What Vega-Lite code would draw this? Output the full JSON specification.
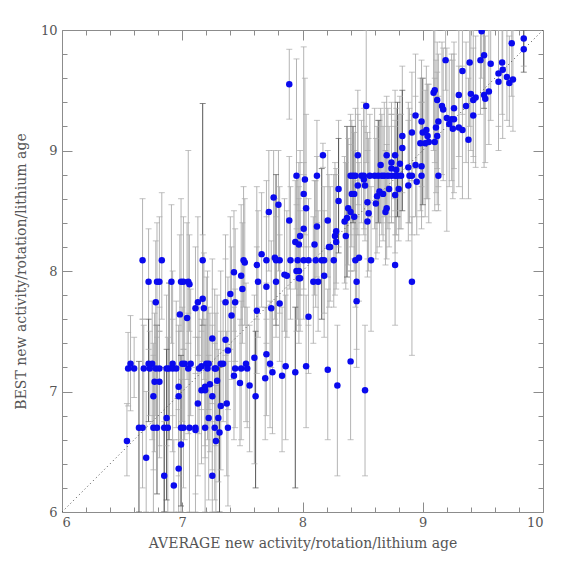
{
  "$schema": "https://vega.github.io/schema/vega-lite/v6.json",
  "width": 481,
  "height": 482,
  "autosize": {"type": "none"},
  "padding": {"left": 62, "top": 30, "right": 31, "bottom": 62},
  "background": "white",
  "datasets": {
    "stars": [
      {"x":6.54,"y":6.59,"lo":6.3,"hi":6.9,"d":0},
      {"x":6.55,"y":7.19,"lo":6.88,"hi":7.49,"d":0},
      {"x":6.57,"y":7.23,"lo":6.84,"hi":7.63,"d":0},
      {"x":6.60,"y":7.19,"lo":6.95,"hi":7.45,"d":0},
      {"x":6.64,"y":6.70,"lo":6.0,"hi":7.25,"d":1},
      {"x":6.67,"y":6.70,"lo":6.2,"hi":7.6,"d":0},
      {"x":6.67,"y":8.09,"lo":7.6,"hi":8.6,"d":0},
      {"x":6.68,"y":7.19,"lo":6.7,"hi":7.55,"d":0},
      {"x":6.70,"y":6.45,"lo":6.0,"hi":7.0,"d":0},
      {"x":6.72,"y":7.91,"lo":7.35,"hi":8.35,"d":0},
      {"x":6.72,"y":7.23,"lo":6.75,"hi":7.6,"d":1},
      {"x":6.75,"y":7.23,"lo":6.6,"hi":7.75,"d":0},
      {"x":6.73,"y":7.19,"lo":6.8,"hi":7.5,"d":0},
      {"x":6.76,"y":6.96,"lo":6.35,"hi":7.4,"d":0},
      {"x":6.76,"y":6.70,"lo":6.0,"hi":7.3,"d":0},
      {"x":6.79,"y":6.70,"lo":6.15,"hi":7.55,"d":1},
      {"x":6.77,"y":7.08,"lo":6.5,"hi":7.65,"d":0},
      {"x":6.78,"y":7.74,"lo":7.2,"hi":8.25,"d":0},
      {"x":6.78,"y":7.19,"lo":6.8,"hi":7.55,"d":0},
      {"x":6.81,"y":7.19,"lo":6.55,"hi":7.7,"d":0},
      {"x":6.79,"y":7.91,"lo":7.45,"hi":8.4,"d":0},
      {"x":6.81,"y":7.91,"lo":7.5,"hi":8.45,"d":0},
      {"x":6.81,"y":7.08,"lo":6.45,"hi":7.5,"d":0},
      {"x":6.83,"y":8.09,"lo":7.6,"hi":8.65,"d":0},
      {"x":6.85,"y":6.30,"lo":6.0,"hi":6.75,"d":0},
      {"x":6.85,"y":6.70,"lo":6.0,"hi":7.2,"d":1},
      {"x":6.87,"y":7.19,"lo":6.55,"hi":7.8,"d":0},
      {"x":6.87,"y":6.78,"lo":6.1,"hi":7.35,"d":1},
      {"x":6.88,"y":6.70,"lo":6.0,"hi":7.45,"d":0},
      {"x":6.89,"y":7.19,"lo":6.6,"hi":7.9,"d":1},
      {"x":6.91,"y":7.91,"lo":7.4,"hi":8.55,"d":0},
      {"x":6.92,"y":7.23,"lo":6.8,"hi":8.0,"d":0},
      {"x":6.92,"y":7.19,"lo":6.5,"hi":7.6,"d":0},
      {"x":6.95,"y":7.19,"lo":6.7,"hi":7.75,"d":0},
      {"x":6.93,"y":6.22,"lo":6.0,"hi":6.6,"d":0},
      {"x":6.97,"y":6.36,"lo":6.0,"hi":6.85,"d":0},
      {"x":6.97,"y":6.96,"lo":6.3,"hi":7.5,"d":0},
      {"x":6.97,"y":7.04,"lo":6.6,"hi":7.55,"d":0},
      {"x":6.98,"y":7.64,"lo":7.2,"hi":8.3,"d":0},
      {"x":6.99,"y":7.91,"lo":7.5,"hi":8.6,"d":0},
      {"x":7.01,"y":7.91,"lo":7.35,"hi":8.45,"d":0},
      {"x":6.99,"y":6.56,"lo":6.0,"hi":7.1,"d":0},
      {"x":6.99,"y":6.70,"lo":6.05,"hi":7.3,"d":1},
      {"x":7.00,"y":7.23,"lo":6.75,"hi":7.7,"d":0},
      {"x":7.02,"y":7.23,"lo":6.6,"hi":7.9,"d":0},
      {"x":7.01,"y":6.70,"lo":6.2,"hi":7.35,"d":0},
      {"x":7.04,"y":7.61,"lo":7.1,"hi":8.4,"d":0},
      {"x":7.05,"y":7.19,"lo":6.65,"hi":7.65,"d":0},
      {"x":7.05,"y":7.91,"lo":7.4,"hi":9.0,"d":0},
      {"x":7.06,"y":7.89,"lo":7.5,"hi":8.3,"d":0},
      {"x":7.06,"y":6.70,"lo":6.0,"hi":7.25,"d":0},
      {"x":7.07,"y":7.23,"lo":6.8,"hi":7.85,"d":0},
      {"x":7.11,"y":6.70,"lo":6.15,"hi":7.2,"d":0},
      {"x":7.11,"y":6.68,"lo":6.0,"hi":7.45,"d":0},
      {"x":7.11,"y":7.69,"lo":7.15,"hi":8.2,"d":0},
      {"x":7.13,"y":7.74,"lo":7.3,"hi":8.45,"d":0},
      {"x":7.13,"y":6.90,"lo":6.3,"hi":7.45,"d":0},
      {"x":7.14,"y":7.19,"lo":6.65,"hi":7.7,"d":0},
      {"x":7.16,"y":7.21,"lo":6.85,"hi":7.6,"d":0},
      {"x":7.16,"y":7.01,"lo":6.4,"hi":7.5,"d":0},
      {"x":7.17,"y":8.09,"lo":7.55,"hi":9.39,"d":1},
      {"x":7.17,"y":7.77,"lo":7.25,"hi":8.3,"d":0},
      {"x":7.18,"y":7.69,"lo":7.1,"hi":8.15,"d":0},
      {"x":7.19,"y":7.01,"lo":6.45,"hi":7.55,"d":0},
      {"x":7.19,"y":6.70,"lo":6.0,"hi":7.2,"d":0},
      {"x":7.20,"y":7.23,"lo":6.7,"hi":7.95,"d":0},
      {"x":7.22,"y":7.23,"lo":6.85,"hi":7.7,"d":0},
      {"x":7.19,"y":7.04,"lo":6.55,"hi":7.6,"d":0},
      {"x":7.21,"y":7.19,"lo":6.6,"hi":8.0,"d":0},
      {"x":7.23,"y":7.06,"lo":6.5,"hi":7.65,"d":0},
      {"x":7.22,"y":6.78,"lo":6.1,"hi":7.3,"d":0},
      {"x":7.25,"y":7.44,"lo":6.9,"hi":8.1,"d":0},
      {"x":7.25,"y":6.96,"lo":6.35,"hi":7.55,"d":0},
      {"x":7.25,"y":6.30,"lo":6.0,"hi":6.75,"d":0},
      {"x":7.27,"y":7.19,"lo":6.7,"hi":7.85,"d":0},
      {"x":7.28,"y":7.19,"lo":6.55,"hi":7.65,"d":0},
      {"x":7.27,"y":6.70,"lo":6.1,"hi":7.4,"d":0},
      {"x":7.28,"y":6.59,"lo":6.0,"hi":7.05,"d":0},
      {"x":7.29,"y":7.09,"lo":6.6,"hi":7.8,"d":0},
      {"x":7.30,"y":6.78,"lo":6.25,"hi":7.35,"d":0},
      {"x":7.31,"y":6.66,"lo":6.0,"hi":7.2,"d":1},
      {"x":7.32,"y":6.88,"lo":6.35,"hi":7.5,"d":0},
      {"x":7.32,"y":7.23,"lo":6.9,"hi":8.0,"d":0},
      {"x":7.34,"y":7.23,"lo":6.75,"hi":7.75,"d":0},
      {"x":7.36,"y":7.43,"lo":6.9,"hi":8.1,"d":0},
      {"x":7.36,"y":7.74,"lo":7.3,"hi":8.3,"d":0},
      {"x":7.38,"y":7.34,"lo":6.85,"hi":7.95,"d":0},
      {"x":7.37,"y":6.90,"lo":6.3,"hi":7.5,"d":0},
      {"x":7.38,"y":6.70,"lo":6.05,"hi":7.25,"d":0},
      {"x":7.40,"y":7.81,"lo":7.35,"hi":8.45,"d":0},
      {"x":7.41,"y":7.63,"lo":7.1,"hi":8.2,"d":0},
      {"x":7.43,"y":7.13,"lo":6.6,"hi":7.7,"d":0},
      {"x":7.43,"y":7.99,"lo":7.5,"hi":8.5,"d":0},
      {"x":7.44,"y":7.74,"lo":7.25,"hi":8.35,"d":0},
      {"x":7.44,"y":7.19,"lo":6.7,"hi":7.85,"d":0},
      {"x":7.48,"y":7.07,"lo":6.55,"hi":7.6,"d":0},
      {"x":7.49,"y":7.96,"lo":7.55,"hi":8.55,"d":0},
      {"x":7.49,"y":7.19,"lo":6.6,"hi":7.75,"d":0},
      {"x":7.50,"y":7.85,"lo":7.4,"hi":8.4,"d":0},
      {"x":7.51,"y":8.09,"lo":7.7,"hi":8.7,"d":0},
      {"x":7.52,"y":8.07,"lo":7.55,"hi":8.6,"d":0},
      {"x":7.53,"y":7.23,"lo":6.75,"hi":7.9,"d":0},
      {"x":7.54,"y":7.19,"lo":6.7,"hi":7.7,"d":0},
      {"x":7.56,"y":7.05,"lo":6.5,"hi":7.55,"d":0},
      {"x":7.60,"y":7.28,"lo":6.4,"hi":7.8,"d":0},
      {"x":7.61,"y":6.96,"lo":6.2,"hi":7.5,"d":1},
      {"x":7.62,"y":8.05,"lo":7.6,"hi":8.7,"d":0},
      {"x":7.63,"y":7.91,"lo":7.45,"hi":8.5,"d":0},
      {"x":7.62,"y":7.67,"lo":7.15,"hi":8.2,"d":0},
      {"x":7.66,"y":8.14,"lo":7.7,"hi":8.65,"d":0},
      {"x":7.69,"y":7.11,"lo":6.6,"hi":7.7,"d":0},
      {"x":7.70,"y":7.87,"lo":7.4,"hi":8.45,"d":0},
      {"x":7.70,"y":7.31,"lo":6.8,"hi":7.9,"d":0},
      {"x":7.70,"y":8.09,"lo":7.6,"hi":8.75,"d":0},
      {"x":7.73,"y":7.23,"lo":6.7,"hi":7.75,"d":0},
      {"x":7.74,"y":7.69,"lo":7.2,"hi":8.25,"d":0},
      {"x":7.75,"y":7.16,"lo":6.65,"hi":7.7,"d":0},
      {"x":7.77,"y":8.11,"lo":7.6,"hi":8.6,"d":0},
      {"x":7.78,"y":8.09,"lo":7.55,"hi":8.8,"d":1},
      {"x":7.81,"y":8.09,"lo":7.65,"hi":8.7,"d":0},
      {"x":7.78,"y":7.91,"lo":7.45,"hi":8.45,"d":0},
      {"x":7.81,"y":7.73,"lo":7.25,"hi":8.3,"d":0},
      {"x":7.83,"y":7.13,"lo":6.5,"hi":7.7,"d":0},
      {"x":7.85,"y":7.97,"lo":7.5,"hi":8.6,"d":0},
      {"x":7.87,"y":7.96,"lo":7.45,"hi":8.5,"d":0},
      {"x":7.86,"y":7.21,"lo":6.6,"hi":7.8,"d":0},
      {"x":7.90,"y":8.09,"lo":7.6,"hi":8.7,"d":0},
      {"x":7.94,"y":7.16,"lo":6.2,"hi":7.7,"d":1},
      {"x":7.94,"y":8.24,"lo":7.85,"hi":8.75,"d":0},
      {"x":7.97,"y":8.22,"lo":7.8,"hi":8.9,"d":0},
      {"x":7.96,"y":8.09,"lo":7.6,"hi":8.8,"d":0},
      {"x":7.95,"y":8.00,"lo":7.5,"hi":8.55,"d":0},
      {"x":7.97,"y":7.94,"lo":7.4,"hi":8.6,"d":0},
      {"x":7.97,"y":8.00,"lo":7.55,"hi":8.7,"d":0},
      {"x":7.98,"y":7.94,"lo":7.5,"hi":8.5,"d":0},
      {"x":7.89,"y":9.55,"lo":9.26,"hi":9.84,"d":0},
      {"x":7.95,"y":8.79,"lo":8.35,"hi":9.76,"d":0},
      {"x":7.76,"y":8.61,"lo":8.1,"hi":9.0,"d":0},
      {"x":7.80,"y":8.55,"lo":8.0,"hi":9.0,"d":0},
      {"x":7.72,"y":8.49,"lo":8.0,"hi":9.0,"d":0},
      {"x":7.89,"y":8.42,"lo":7.85,"hi":8.95,"d":0},
      {"x":7.98,"y":8.29,"lo":7.8,"hi":9.0,"d":0},
      {"x":8.01,"y":8.09,"lo":7.6,"hi":8.8,"d":0},
      {"x":8.05,"y":8.09,"lo":7.55,"hi":8.6,"d":0},
      {"x":8.11,"y":8.09,"lo":7.7,"hi":8.75,"d":0},
      {"x":8.16,"y":8.09,"lo":7.6,"hi":8.85,"d":1},
      {"x":8.18,"y":8.09,"lo":7.65,"hi":8.7,"d":0},
      {"x":8.26,"y":8.09,"lo":7.7,"hi":8.8,"d":0},
      {"x":8.02,"y":8.76,"lo":8.3,"hi":9.6,"d":0},
      {"x":8.01,"y":8.64,"lo":8.2,"hi":9.86,"d":0},
      {"x":8.03,"y":8.52,"lo":8.1,"hi":9.3,"d":0},
      {"x":8.01,"y":8.35,"lo":7.85,"hi":8.9,"d":0},
      {"x":8.12,"y":8.37,"lo":7.95,"hi":8.95,"d":0},
      {"x":8.12,"y":8.79,"lo":8.4,"hi":9.25,"d":0},
      {"x":8.17,"y":8.96,"lo":8.86,"hi":9.06,"d":0},
      {"x":8.21,"y":8.42,"lo":7.95,"hi":9.0,"d":0},
      {"x":8.22,"y":8.20,"lo":7.7,"hi":8.8,"d":0},
      {"x":8.10,"y":8.22,"lo":7.8,"hi":8.75,"d":0},
      {"x":8.30,"y":8.68,"lo":8.2,"hi":9.25,"d":0},
      {"x":8.30,"y":8.58,"lo":8.15,"hi":9.1,"d":1},
      {"x":8.28,"y":8.33,"lo":7.9,"hi":8.85,"d":0},
      {"x":8.27,"y":8.29,"lo":7.8,"hi":8.9,"d":0},
      {"x":8.28,"y":8.24,"lo":7.85,"hi":8.8,"d":0},
      {"x":8.23,"y":8.20,"lo":7.75,"hi":8.7,"d":0},
      {"x":8.36,"y":8.29,"lo":7.85,"hi":8.9,"d":0},
      {"x":8.38,"y":8.52,"lo":8.05,"hi":9.1,"d":0},
      {"x":8.40,"y":8.49,"lo":8.0,"hi":9.05,"d":0},
      {"x":8.37,"y":8.44,"lo":7.95,"hi":9.2,"d":1},
      {"x":8.35,"y":8.41,"lo":7.9,"hi":8.95,"d":0},
      {"x":8.43,"y":8.45,"lo":8.0,"hi":9.0,"d":0},
      {"x":8.41,"y":8.64,"lo":8.2,"hi":9.25,"d":0},
      {"x":8.43,"y":8.64,"lo":8.1,"hi":9.15,"d":0},
      {"x":8.46,"y":8.71,"lo":8.3,"hi":9.3,"d":0},
      {"x":8.52,"y":8.71,"lo":8.25,"hi":9.2,"d":0},
      {"x":8.51,"y":8.76,"lo":8.35,"hi":9.35,"d":0},
      {"x":8.46,"y":8.96,"lo":8.55,"hi":9.5,"d":0},
      {"x":8.53,"y":9.37,"lo":8.9,"hi":10.0,"d":0},
      {"x":8.55,"y":8.48,"lo":8.0,"hi":9.1,"d":0},
      {"x":8.54,"y":8.41,"lo":7.95,"hi":9.0,"d":0},
      {"x":8.54,"y":8.57,"lo":8.1,"hi":9.15,"d":0},
      {"x":8.61,"y":8.56,"lo":8.1,"hi":9.1,"d":0},
      {"x":8.62,"y":8.62,"lo":8.15,"hi":9.2,"d":0},
      {"x":8.64,"y":8.66,"lo":8.2,"hi":9.25,"d":0},
      {"x":8.67,"y":8.64,"lo":8.25,"hi":9.2,"d":0},
      {"x":8.18,"y":7.96,"lo":7.45,"hi":8.5,"d":0},
      {"x":8.09,"y":7.91,"lo":7.4,"hi":8.45,"d":0},
      {"x":8.13,"y":7.91,"lo":7.5,"hi":8.5,"d":0},
      {"x":8.05,"y":7.62,"lo":7.15,"hi":8.2,"d":0},
      {"x":8.03,"y":7.21,"lo":6.7,"hi":7.8,"d":0},
      {"x":8.21,"y":7.18,"lo":6.6,"hi":7.85,"d":0},
      {"x":8.29,"y":7.05,"lo":6.3,"hi":7.55,"d":0},
      {"x":8.40,"y":7.25,"lo":6.6,"hi":8.0,"d":0},
      {"x":8.52,"y":7.01,"lo":6.3,"hi":7.55,"d":0},
      {"x":8.44,"y":8.09,"lo":7.7,"hi":8.75,"d":0},
      {"x":8.47,"y":8.11,"lo":7.75,"hi":8.9,"d":0},
      {"x":8.57,"y":8.09,"lo":7.5,"hi":8.7,"d":0},
      {"x":8.45,"y":7.91,"lo":7.35,"hi":8.45,"d":0},
      {"x":8.45,"y":7.75,"lo":7.2,"hi":8.3,"d":0},
      {"x":8.77,"y":8.05,"lo":7.55,"hi":8.6,"d":0},
      {"x":8.91,"y":7.91,"lo":7.3,"hi":8.45,"d":0},
      {"x":8.40,"y":8.79,"lo":8.3,"hi":9.3,"d":0},
      {"x":8.42,"y":8.79,"lo":8.4,"hi":9.2,"d":1},
      {"x":8.44,"y":8.79,"lo":8.35,"hi":9.35,"d":0},
      {"x":8.49,"y":8.79,"lo":8.4,"hi":9.25,"d":0},
      {"x":8.51,"y":8.79,"lo":8.3,"hi":9.4,"d":0},
      {"x":8.56,"y":8.79,"lo":8.45,"hi":9.3,"d":0},
      {"x":8.60,"y":8.79,"lo":8.35,"hi":9.35,"d":0},
      {"x":8.63,"y":8.79,"lo":8.4,"hi":9.25,"d":1},
      {"x":8.66,"y":8.79,"lo":8.3,"hi":9.3,"d":0},
      {"x":8.68,"y":8.79,"lo":8.45,"hi":9.4,"d":0},
      {"x":8.71,"y":8.79,"lo":8.35,"hi":9.35,"d":0},
      {"x":8.74,"y":8.79,"lo":8.4,"hi":9.3,"d":0},
      {"x":8.77,"y":8.79,"lo":8.3,"hi":9.25,"d":0},
      {"x":8.79,"y":8.79,"lo":8.45,"hi":9.4,"d":1},
      {"x":8.82,"y":8.79,"lo":8.35,"hi":9.3,"d":0},
      {"x":8.89,"y":8.79,"lo":8.4,"hi":9.35,"d":0},
      {"x":8.91,"y":8.79,"lo":8.3,"hi":9.3,"d":0},
      {"x":8.99,"y":8.79,"lo":8.45,"hi":9.4,"d":0},
      {"x":9.13,"y":8.79,"lo":8.5,"hi":9.45,"d":0},
      {"x":8.94,"y":9.29,"lo":8.85,"hi":9.8,"d":0},
      {"x":8.99,"y":9.24,"lo":8.7,"hi":9.75,"d":0},
      {"x":9.03,"y":9.17,"lo":8.6,"hi":9.7,"d":0},
      {"x":9.00,"y":9.15,"lo":8.55,"hi":9.6,"d":1},
      {"x":8.91,"y":9.15,"lo":8.75,"hi":9.65,"d":0},
      {"x":9.04,"y":9.12,"lo":8.6,"hi":9.55,"d":0},
      {"x":8.98,"y":9.06,"lo":8.5,"hi":9.6,"d":0},
      {"x":9.02,"y":9.06,"lo":8.45,"hi":9.5,"d":0},
      {"x":8.83,"y":9.12,"lo":8.65,"hi":9.7,"d":0},
      {"x":8.83,"y":9.02,"lo":8.5,"hi":9.5,"d":1},
      {"x":8.70,"y":8.96,"lo":8.4,"hi":9.45,"d":0},
      {"x":8.77,"y":8.96,"lo":8.5,"hi":9.5,"d":0},
      {"x":8.65,"y":8.88,"lo":8.4,"hi":9.35,"d":0},
      {"x":8.74,"y":8.90,"lo":8.45,"hi":9.4,"d":0},
      {"x":8.81,"y":8.89,"lo":8.35,"hi":9.45,"d":0},
      {"x":8.74,"y":8.85,"lo":8.4,"hi":9.3,"d":0},
      {"x":8.78,"y":8.84,"lo":8.3,"hi":9.35,"d":0},
      {"x":8.88,"y":8.86,"lo":8.4,"hi":9.4,"d":0},
      {"x":8.94,"y":8.88,"lo":8.45,"hi":9.45,"d":0},
      {"x":8.99,"y":8.87,"lo":8.35,"hi":9.4,"d":0},
      {"x":8.95,"y":8.74,"lo":8.3,"hi":9.3,"d":0},
      {"x":8.88,"y":8.71,"lo":8.25,"hi":9.25,"d":0},
      {"x":8.72,"y":8.68,"lo":8.2,"hi":9.2,"d":0},
      {"x":8.80,"y":8.68,"lo":8.25,"hi":9.3,"d":0},
      {"x":8.77,"y":8.63,"lo":8.15,"hi":9.2,"d":0},
      {"x":8.70,"y":8.52,"lo":8.1,"hi":9.05,"d":0},
      {"x":8.69,"y":8.49,"lo":8.05,"hi":9.0,"d":0},
      {"x":9.49,"y":9.99,"lo":9.6,"hi":10.0,"d":0},
      {"x":9.84,"y":9.93,"lo":9.7,"hi":10.0,"d":0},
      {"x":9.84,"y":9.84,"lo":9.65,"hi":10.0,"d":1},
      {"x":9.74,"y":9.89,"lo":9.45,"hi":10.0,"d":0},
      {"x":9.19,"y":9.75,"lo":9.5,"hi":10.0,"d":0},
      {"x":9.39,"y":9.73,"lo":9.2,"hi":10.0,"d":0},
      {"x":9.48,"y":9.75,"lo":9.3,"hi":10.0,"d":0},
      {"x":9.51,"y":9.79,"lo":9.35,"hi":10.0,"d":1},
      {"x":9.565,"y":9.72,"lo":9.25,"hi":10.0,"d":0},
      {"x":9.66,"y":9.73,"lo":9.3,"hi":10.0,"d":0},
      {"x":9.63,"y":9.64,"lo":9.2,"hi":10.0,"d":0},
      {"x":9.665,"y":9.67,"lo":9.1,"hi":10.0,"d":0},
      {"x":9.70,"y":9.61,"lo":9.25,"hi":10.0,"d":0},
      {"x":9.63,"y":9.57,"lo":9.0,"hi":10.0,"d":0},
      {"x":9.72,"y":9.56,"lo":9.2,"hi":9.95,"d":0},
      {"x":9.75,"y":9.59,"lo":9.16,"hi":10.0,"d":0},
      {"x":9.33,"y":9.66,"lo":9.3,"hi":10.0,"d":0},
      {"x":9.09,"y":9.48,"lo":9.0,"hi":10.0,"d":0},
      {"x":9.10,"y":9.50,"lo":8.9,"hi":10.0,"d":0},
      {"x":9.12,"y":9.42,"lo":8.85,"hi":9.9,"d":0},
      {"x":9.30,"y":9.46,"lo":8.95,"hi":10.0,"d":0},
      {"x":9.40,"y":9.47,"lo":9.0,"hi":10.0,"d":0},
      {"x":9.44,"y":9.44,"lo":8.86,"hi":9.95,"d":0},
      {"x":9.42,"y":9.42,"lo":8.95,"hi":10.0,"d":0},
      {"x":9.51,"y":9.46,"lo":8.86,"hi":10.0,"d":0},
      {"x":9.55,"y":9.49,"lo":9.05,"hi":10.0,"d":0},
      {"x":9.52,"y":9.43,"lo":8.9,"hi":9.95,"d":0},
      {"x":9.36,"y":9.37,"lo":8.9,"hi":9.9,"d":0},
      {"x":9.16,"y":9.37,"lo":8.8,"hi":9.9,"d":0},
      {"x":9.17,"y":9.34,"lo":8.75,"hi":9.85,"d":0},
      {"x":9.26,"y":9.35,"lo":8.85,"hi":9.9,"d":0},
      {"x":9.13,"y":9.24,"lo":8.7,"hi":9.8,"d":0},
      {"x":9.20,"y":9.27,"lo":8.33,"hi":9.85,"d":0},
      {"x":9.22,"y":9.22,"lo":8.7,"hi":9.75,"d":0},
      {"x":9.24,"y":9.26,"lo":8.75,"hi":9.8,"d":0},
      {"x":9.26,"y":9.26,"lo":8.65,"hi":9.8,"d":0},
      {"x":9.25,"y":9.18,"lo":8.6,"hi":9.75,"d":0},
      {"x":9.30,"y":9.19,"lo":8.7,"hi":9.7,"d":0},
      {"x":9.33,"y":9.17,"lo":8.6,"hi":9.7,"d":0},
      {"x":9.42,"y":9.29,"lo":8.9,"hi":9.85,"d":0},
      {"x":9.38,"y":9.09,"lo":8.6,"hi":9.6,"d":0},
      {"x":9.11,"y":9.19,"lo":8.65,"hi":9.75,"d":0},
      {"x":9.12,"y":9.12,"lo":8.55,"hi":9.65,"d":0},
      {"x":9.10,"y":9.07,"lo":8.5,"hi":9.6,"d":0},
      {"x":9.05,"y":9.07,"lo":8.4,"hi":9.55,"d":0}
    ],
    "diag": [
      {"x": 6, "y": 6},
      {"x": 10, "y": 10}
    ]
  },
  "resolve": {"axis": {"x": "independent", "y": "independent"}},
  "layer": [
    {
      "data": {"name": "stars"},
      "mark": {"type": "rule", "strokeWidth": 1, "clip": true},
      "encoding": {
        "x": {
          "field": "x", "type": "quantitative",
          "scale": {"domain": [6, 10], "nice": false, "zero": false},
          "axis": {
            "orient": "bottom",
            "values": [6,6.2,6.4,6.6,6.8,7,7.2,7.4,7.6,7.8,8,8.2,8.4,8.6,8.8,9,9.2,9.4,9.6,9.8,10],
            "labelExpr": "datum.value == round(datum.value) ? format(datum.value, 'd') : ''",
            "tickSize": {"condition": {"test": "datum.value == round(datum.value)", "value": -10}, "value": -5},
            "labelPadding": 14,
            "title": "AVERAGE new activity/rotation/lithium age",
            "titlePadding": 7
          }
        },
        "y": {
          "field": "lo", "type": "quantitative",
          "scale": {"domain": [6, 10], "nice": false, "zero": false},
          "axis": {
            "orient": "left",
            "values": [6,6.2,6.4,6.6,6.8,7,7.2,7.4,7.6,7.8,8,8.2,8.4,8.6,8.8,9,9.2,9.4,9.6,9.8,10],
            "labelExpr": "datum.value == round(datum.value) ? format(datum.value, 'd') : ''",
            "tickSize": {"condition": {"test": "datum.value == round(datum.value)", "value": -10}, "value": -5},
            "labelPadding": 15,
            "title": "BEST new activity/rotation/lithium age",
            "titlePadding": 12
          }
        },
        "y2": {"field": "hi"},
        "color": {"condition": {"test": "datum.d == 1", "value": "#555555"}, "value": "#b4b4b4"}
      }
    },
    {
      "data": {"name": "stars"},
      "mark": {"type": "tick", "orient": "horizontal", "size": 6, "thickness": 1, "clip": true},
      "encoding": {
        "x": {"field": "x", "type": "quantitative", "axis": null},
        "y": {"field": "lo", "type": "quantitative", "axis": null},
        "color": {"condition": {"test": "datum.d == 1", "value": "#555555"}, "value": "#a8a8a8"}
      }
    },
    {
      "data": {"name": "stars"},
      "mark": {"type": "tick", "orient": "horizontal", "size": 6, "thickness": 1, "clip": true},
      "encoding": {
        "x": {"field": "x", "type": "quantitative", "axis": null},
        "y": {"field": "hi", "type": "quantitative", "axis": null},
        "color": {"condition": {"test": "datum.d == 1", "value": "#555555"}, "value": "#a8a8a8"}
      }
    },
    {
      "data": {"name": "diag"},
      "mark": {"type": "line", "strokeDash": [1, 3], "strokeWidth": 1, "color": "#444444"},
      "encoding": {
        "x": {"field": "x", "type": "quantitative", "axis": null},
        "y": {"field": "y", "type": "quantitative", "axis": null}
      }
    },
    {
      "data": {"name": "stars"},
      "mark": {"type": "circle", "size": 42, "opacity": 1, "color": "#0a0aee", "clip": true},
      "encoding": {
        "x": {
          "field": "x", "type": "quantitative",
          "axis": {
            "orient": "top",
            "values": [6,6.2,6.4,6.6,6.8,7,7.2,7.4,7.6,7.8,8,8.2,8.4,8.6,8.8,9,9.2,9.4,9.6,9.8,10],
            "labels": false,
            "title": null,
            "tickSize": {"condition": {"test": "datum.value == round(datum.value)", "value": -10}, "value": -5}
          }
        },
        "y": {
          "field": "y", "type": "quantitative",
          "axis": {
            "orient": "right",
            "values": [6,6.2,6.4,6.6,6.8,7,7.2,7.4,7.6,7.8,8,8.2,8.4,8.6,8.8,9,9.2,9.4,9.6,9.8,10],
            "labels": false,
            "title": null,
            "tickSize": {"condition": {"test": "datum.value == round(datum.value)", "value": -10}, "value": -5}
          }
        }
      }
    }
  ],
  "config": {
    "view": {"stroke": null},
    "axis": {
      "grid": false,
      "domainColor": "#8c8c8c",
      "tickColor": "#8c8c8c",
      "labelFont": "DejaVu Serif",
      "labelFontSize": 13,
      "labelColor": "#555555",
      "titleFont": "DejaVu Serif",
      "titleFontSize": 14,
      "titleFontWeight": "normal",
      "titleColor": "#555555"
    }
  }
}
